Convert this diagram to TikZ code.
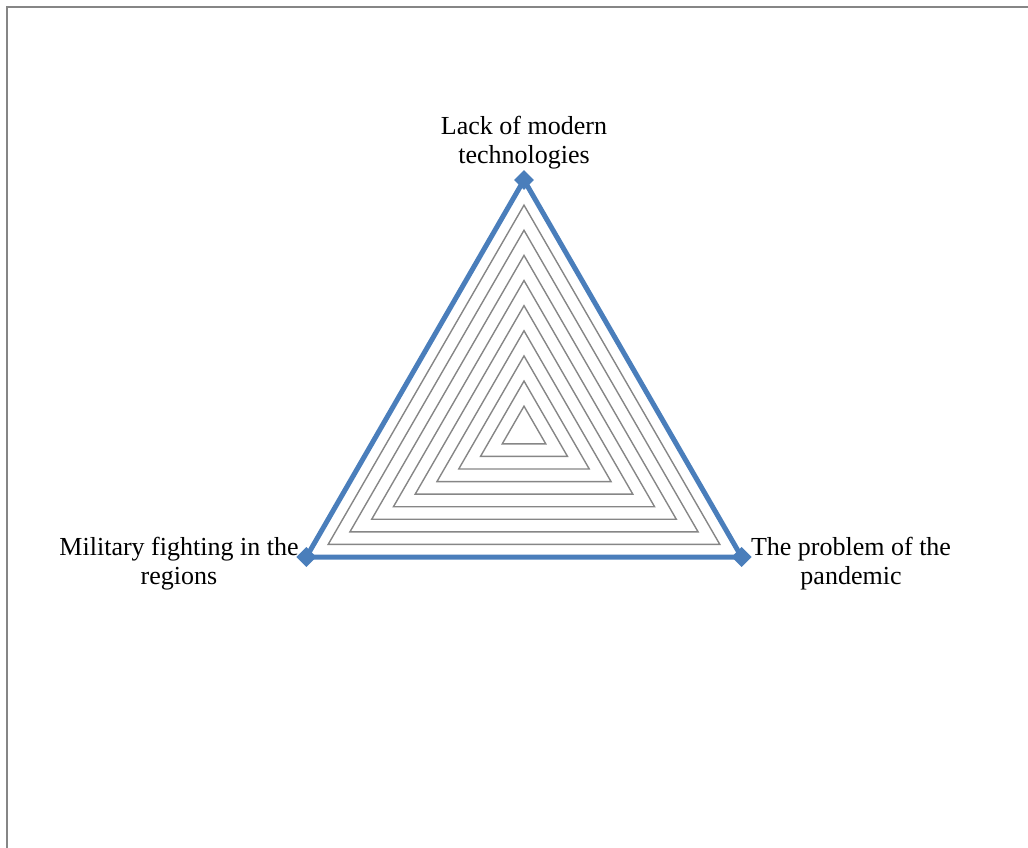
\documentclass[tikz,border=0pt]{standalone}
\usepackage{fontspec}
\setmainfont{Liberation Serif}
\usetikzlibrary{shapes.geometric,calc}
\definecolor{serieblue}{HTML}{4A7EBB}
\definecolor{gridgray}{HTML}{868686}
\begin{document}
\begin{tikzpicture}[x=1pt,y=-1pt,
  gridline/.style={draw=gridgray,line width=1.4pt},
  seriesline/.style={draw=serieblue,line width=5pt,line join=miter},
  marker/.style={diamond,fill=serieblue,inner sep=0pt,minimum size=20pt},
  axislabel/.style={align=center,inner sep=0pt,font=\fontsize{26}{29}\selectfont}]
\useasboundingbox (0,0) rectangle (1028,848);
\draw[draw=gridgray,line width=1.5pt] (7,7) rectangle (1040,860);
\coordinate (O) at (524,431.3);
\foreach \k in {1,...,9}{
  \draw[gridline] ($(O)!\k/10!(524,180)$) -- ($(O)!\k/10!(741.6,557)$) -- ($(O)!\k/10!(306.4,557)$) -- cycle;
}
\coordinate (A) at (524,180);
\coordinate (B) at (741.6,557);
\coordinate (C) at (306.4,557);
\draw[seriesline] (A) -- (B) -- (C) -- cycle;
\node[marker] (mA) at (A) {};
\node[marker] (mB) at (B) {};
\node[marker] (mC) at (C) {};
\node[axislabel] (lA) at (524,142.5) {Lack of modern\\technologies};
\node[axislabel] (lB) at (851,563.5) {The problem of the\\pandemic};
\node[axislabel] (lC) at (179,563.5) {Military fighting in the\\regions};
\end{tikzpicture}
\end{document}
